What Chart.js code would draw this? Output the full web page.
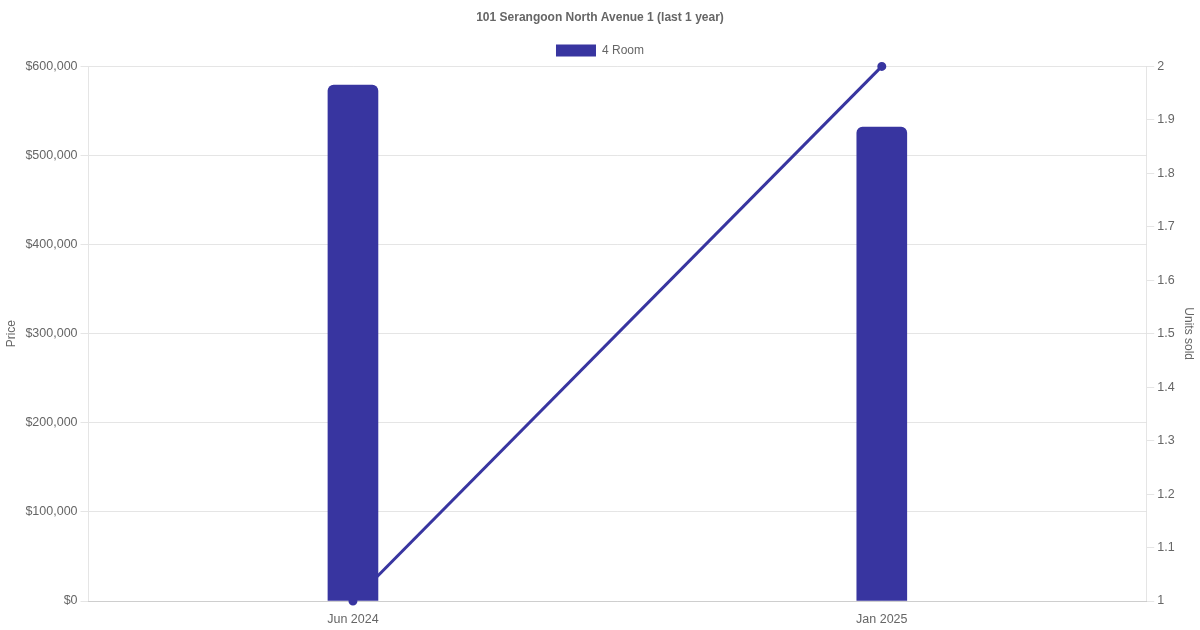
<!DOCTYPE html>
<html>
<head>
<meta charset="utf-8">
<script src="https://cdn.jsdelivr.net/npm/chart.js@4/dist/chart.umd.min.js"></script>
<style>
html,body{margin:0;padding:0;background:#fff;}
#wrap{width:1200px;height:630px;}
</style>
</head>
<body>
<div id="wrap"><canvas id="c"></canvas></div>
<script>
const categories = ["Jun 2024", "Jan 2025"];
const prices4Room = [579000, 532000];
const unitsSold = [1, 2];
const titleText = "101 Serangoon North Avenue 1 (last 1 year)";
const barLabel = "4 Room";
const lineLabel = "Units sold";
const color = "rgb(56,53,160)";

Chart.defaults.font.family = "'Liberation Sans', Arial, Helvetica, sans-serif";
Chart.defaults.font.size = 12;
Chart.defaults.color = "#666";
const tickFont = {size: 12.5};

new Chart(document.getElementById("c"), {
  data: {
    labels: categories,
    datasets: [
      {
        type: "bar",
        label: barLabel,
        data: prices4Room,
        backgroundColor: color,
        borderColor: color,
        borderRadius: {topLeft: 6, topRight: 6},
        borderSkipped: "bottom",
        barThickness: 50,
        yAxisID: "y"
      },
      {
        type: "line",
        label: lineLabel,
        data: unitsSold,
        borderColor: color,
        backgroundColor: color,
        borderWidth: 3,
        pointRadius: 3,
        fill: false,
        tension: 0,
        yAxisID: "y1"
      }
    ]
  },
  options: {
    responsive: true,
    maintainAspectRatio: false,
    animation: false,
    plugins: {
      title: {display: true, text: titleText, font: {weight: "bold", size: 12}, color: "#666"},
      legend: {
        labels: {filter: (item) => item.text !== lineLabel}
      }
    },
    scales: {
      x: {
        grid: {display: false},
        ticks: {font: tickFont}
      },
      y: {
        position: "left",
        beginAtZero: true,
        title: {display: true, text: "Price"},
        ticks: {
          font: tickFont,
          stepSize: 100000,
          callback: (v) => "$" + Number(v).toLocaleString("en-US")
        }
      },
      y1: {
        position: "right",
        title: {display: true, text: "Units sold"},
        grid: {drawOnChartArea: false},
        ticks: {
          font: tickFont,
          stepSize: 0.1,
          callback: (v) => String(Math.round(v * 10) / 10)
        }
      }
    }
  }
});
</script>
</body>
</html>
